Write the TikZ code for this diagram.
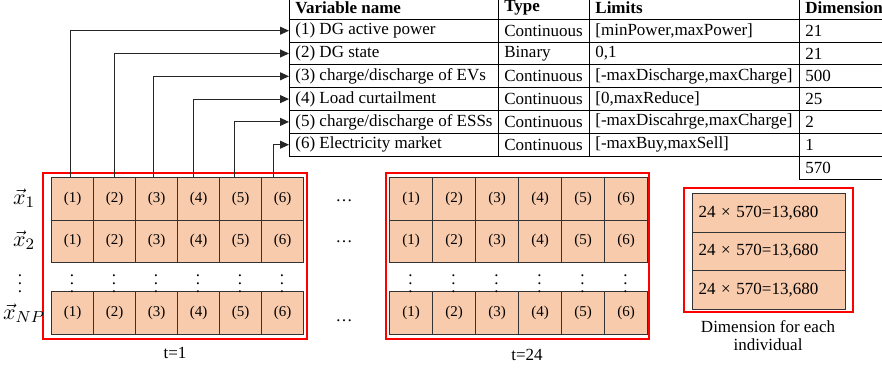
\documentclass[tikz,border=0pt]{standalone}
\usepackage{fontspec}
\setmainfont{Liberation Serif}
\usetikzlibrary{arrows.meta}
\definecolor{cellpeach}{RGB}{248,203,173}

\begin{document}
\begin{tikzpicture}[x=0.5pt,y=-0.5pt,font=\fontsize{8.5}{10}\selectfont,
  txt/.style={anchor=west,inner xsep=3pt,inner ysep=1pt},
  hdr/.style={txt,font=\fontsize{8.5}{10}\selectfont\bfseries},
  cell/.style={draw=black!80,fill=cellpeach,line width=0.5pt,inner sep=0pt,
    minimum height=21.25pt,anchor=north west,font=\fontsize{7.5}{8}\selectfont},
  dimcell/.style={cell,minimum height=19.35pt,text width=70.5pt,inner xsep=3pt,
    align=left,font=\fontsize{8.5}{10}\selectfont},
  group/.style={draw=red,line width=0.6pt},
  link/.style={draw=black!85,line width=0.5pt,-{Triangle[length=4.5pt,width=4pt]}},
  lbl/.style={font=\fontsize{11}{13}\selectfont}]

\useasboundingbox (0,0) rectangle (882,369);

% variable table
\foreach \k in {0,...,7} \draw[line width=0.5pt] (289,{-3.5+22.8*\k}) -- (890,{-3.5+22.8*\k});
\foreach \x in {289,498,589,799} \draw[line width=0.5pt] (\x,-3.5) -- (\x,156.1);
\draw[line width=0.5pt] (799,156.1) -- (799,179) -- (890,179);
\node[hdr] (hvar) at (289,7.9) {Variable name};
\node[hdr] (htype) at (498,7.9) {Type};
\node[hdr] (hlim) at (589,7.9) {Limits};
\node[hdr] (hdim) at (799,7.9) {Dimension};
\foreach \k/\nm/\ty/\lm/\dm in {
  1/{(1) DG active power}/Continuous/{[minPower,maxPower]}/21,
  2/{(2) DG state}/Binary/{0,1}/21,
  3/{(3) charge/discharge of EVs}/Continuous/{[-maxDischarge,maxCharge]}/500,
  4/{(4) Load curtailment}/Continuous/{[0,maxReduce]}/25,
  5/{(5) charge/discharge of ESSs}/Continuous/{[-maxDiscahrge,maxCharge]}/2,
  6/{(6) Electricity market}/Continuous/{[-maxBuy,maxSell]}/1}{
  \node[txt] (var\k) at (289,{30.7+22.8*(\k-1)}) {\nm};
  \node[txt] (type\k) at (498,{30.7+22.8*(\k-1)}) {\ty};
  \node[txt] (lim\k) at (589,{30.7+22.8*(\k-1)}) {\lm};
  \node[txt] (dim\k) at (799,{30.7+22.8*(\k-1)}) {\dm};
}
\node[txt] (dimsum) at (799,167.5) {570};

% population blocks, t=1 and t=24
\foreach \g/\x/\w in {L/51/42,R/389/43}{
  \foreach \r/\y in {1/177,2/219.5,3/291}
    \foreach \c in {1,...,6}
      \node[cell,minimum width=\w*0.5pt] (\g-\r-\c) at ({\x+\w*(\c-1)},\y) {(\c)};
  \foreach \c in {1,...,6}
    \node[inner sep=0pt] (\g-d-\c) at ({\x+\w*(\c-0.5)},278) {$\vdots$};
}
\draw[group] (43,173) rectangle (307,339);
\draw[group] (386,173) rectangle (649,339);

\node[lbl] (x1) at (24,198) {$\vec{x}_1$};
\node[lbl] (x2) at (24,240) {$\vec{x}_2$};
\node[inner sep=0pt] (xd) at (20,278) {$\vdots$};
\node[lbl] (xnp) at (24,313) {$\vec{x}_{NP}$};

\node (e1) at (344,201) {\dots};
\node (e2) at (344,242) {\dots};
\node (e3) at (344,321) {\dots};

\node (t1) at (175,353) {t=1};
\node (t24) at (527,355) {t=24};

% dimension per individual
\foreach \r in {1,2,3}
  \node[dimcell] (D-\r) at (692,{193+38.7*(\r-1)}) {24 × 570=13,680};
\draw[group] (684,188) rectangle (853,312);
\node[align=center,font=\fontsize{8.5}{9}\selectfont] (dimcap) at (768,336) {Dimension for each\\individual};

% links from block columns to table rows
\foreach \c/\o in {1/-2,2/0,3/-3,4/-5,5/-6,6/-9}
  \draw[link] ([xshift=\o*0.5pt]L-1-\c.north) |- (var\c.west);
\end{tikzpicture}
\end{document}
